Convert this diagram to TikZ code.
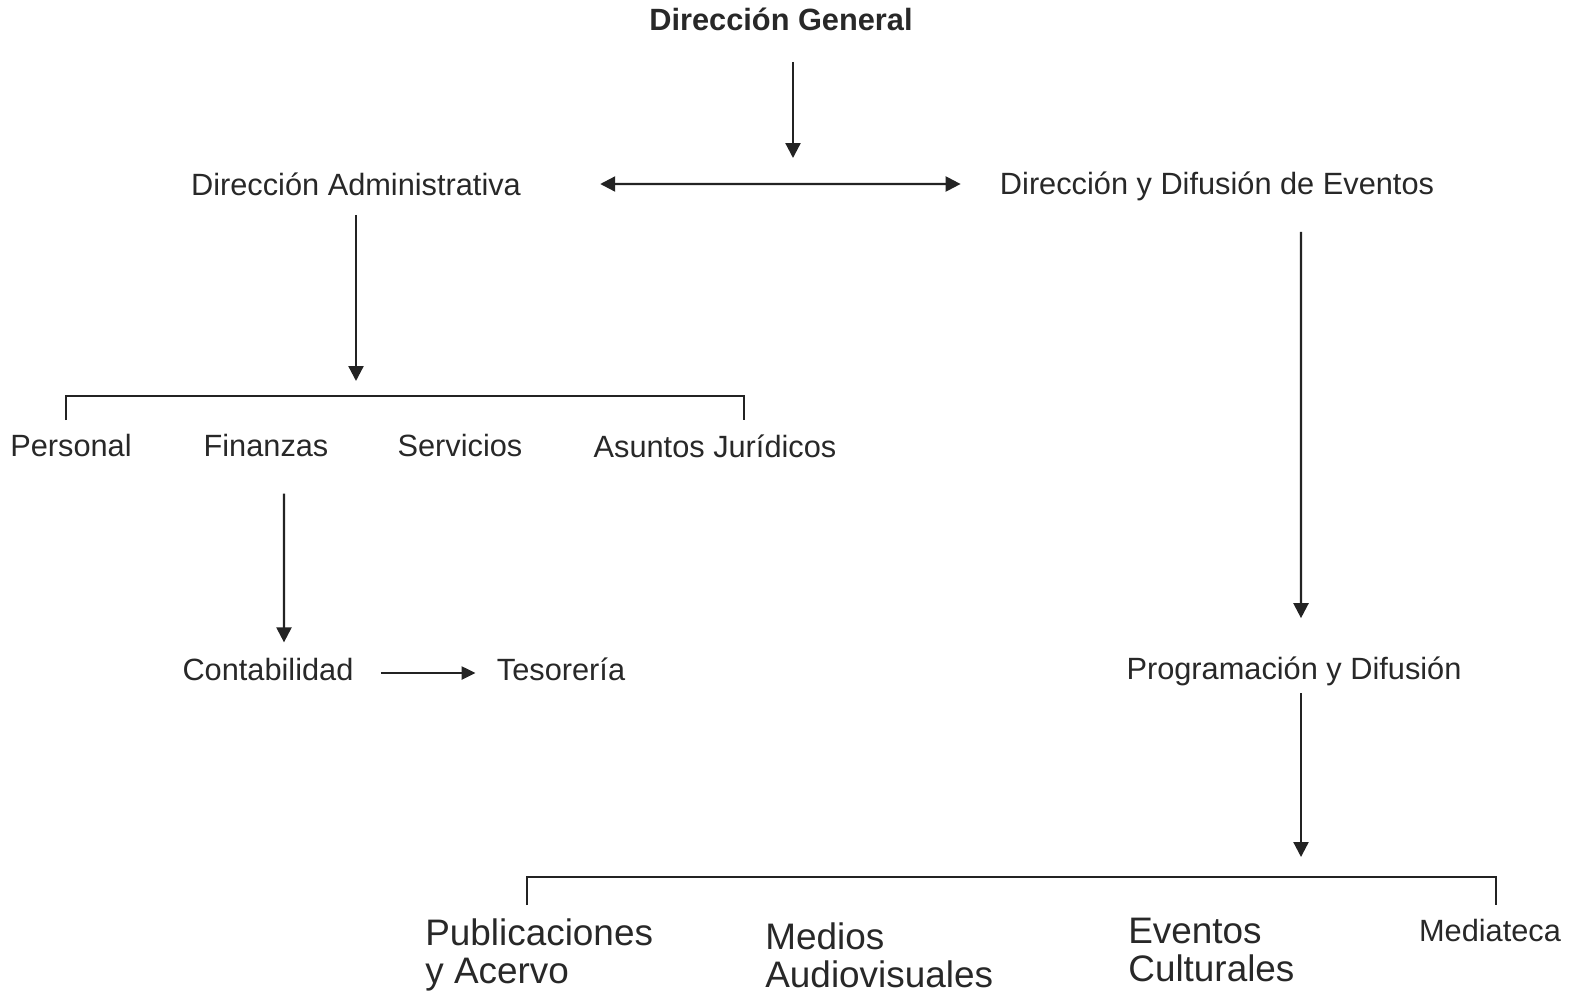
\documentclass[tikz,border=0pt]{standalone}
\usepackage{fontspec}
\setmainfont{Liberation Sans}
\definecolor{orgtext}{RGB}{40,40,40}
\definecolor{orgline}{RGB}{35,35,35}
\usetikzlibrary{arrows.meta,positioning}

\begin{document}
\begin{tikzpicture}[x=0.02cm,y=-0.02cm,
    every node/.style={font=\fontsize{17.5}{21}\selectfont,text=orgtext,inner sep=0pt},
    twoline/.style={font=\fontsize{21}{21.6}\selectfont,align=left,anchor=north west},
    link/.style={draw=orgline,line width=1.3pt,-{Triangle[length=3mm,width=3mm]}},
    bracket/.style={draw=orgline,line width=1pt}]
  \useasboundingbox (0,0) rectangle (1571,994);
  %% top level
  \node[font=\fontsize{17.5}{21}\selectfont\bfseries] (dg) at (781,19) {Dirección General};
  \node (adm) at (356,184) {Dirección Administrativa};
  \node (eve) at (1217,186) {Dirección y Difusión de Eventos};
  \coordinate (dgtip) at (793,158);
  \draw[link,shorten <=0.62cm] (dg.south -| dgtip) -- (dgtip);
  \draw[link,{Triangle[length=3mm,width=3mm]}-{Triangle[length=3mm,width=3mm]},
        shorten <=1.58cm,shorten >=0.78cm] (adm.east) -- ([yshift=0.04cm]eve.west);
  %% administrative branch
  \node (per) at (71,446) {Personal};
  \node (fin) at (266,446) {Finanzas};
  \node (ser) at (460,446) {Servicios};
  \node (jur) at (715,446) {Asuntos Jurídicos};
  \coordinate (admtip) at (356,381);
  \draw[link,shorten <=0.38cm] (adm.south -| admtip) -- (admtip);
  \draw[bracket] (66,420) |- (744,396) -- (744,420);
  \node (con) at (268,669) {Contabilidad};
  \node (tes) at (561,669) {Tesorería};
  \draw[link,shorten <=0.72cm,shorten >=0.3cm] ([xshift=0.36cm]fin.south) -- ([xshift=0.32cm]con.north);
  \draw[draw=orgline,line width=1.3pt,-{Triangle[length=2.8mm,width=2.6mm]},
        shorten <=0.54cm,shorten >=0.42cm] ([yshift=-0.08cm]con.east) -- ([yshift=-0.08cm]tes.west);
  %% events branch
  \node (prog) at (1294,671) {Programación y Difusión};
  \draw[link,shorten <=0.62cm,shorten >=0.76cm] ([xshift=1.68cm]eve.south) -- ([xshift=0.14cm]prog.north);
  \coordinate (progtip) at (1301,857);
  \draw[link,shorten <=0.15cm] (prog.south -| progtip) -- (progtip);
  \draw[bracket] (527,905) |- (1496,877) -- (1496,905);
  \node[twoline] (pub) at (425,918) {Publicaciones\\y Acervo};
  \node[twoline] (med) at (765,922) {Medios\\Audiovisuales};
  \node[twoline] (cul) at (1128,918) {Eventos\\Culturales};
  \node (mta) at (1490,930) {Mediateca};
\end{tikzpicture}
\end{document}
